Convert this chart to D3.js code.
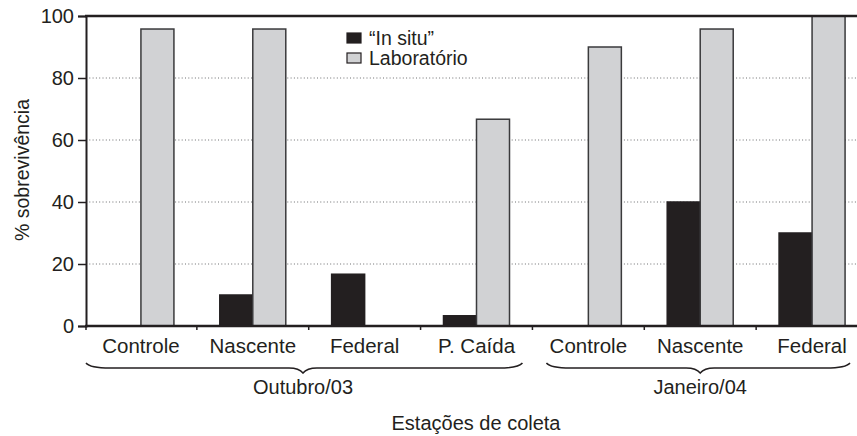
<!DOCTYPE html>
<html>
<head>
<meta charset="utf-8">
<script src="https://d3js.org/d3.v7.min.js"></script>
<style>
  body { margin: 0; background: #fff; }
  text { font-family: "Liberation Sans", Arial, sans-serif; fill: #231f20; }
</style>
</head>
<body>
<svg id="chart" width="857" height="436"></svg>
<script>
// data
var stations = ["Controle", "Nascente", "Federal", "P. Caída", "Controle", "Nascente", "Federal"];
var inSitu = [0, 10, 16.7, 3.3, 0, 40, 30];
var laboratorio = [95.8, 95.8, 0, 66.7, 90, 95.8, 100];
var seriesNames = ["\u201cIn situ\u201d", "Laboratório"];
var yTicks = [0, 20, 40, 60, 80, 100];
var periods = ["Outubro/03", "Janeiro/04"];
var periodSpans = [[0, 3], [4, 6]];

var svg = d3.select("#chart");
var plotLeft = 86, plotTop = 16, plotBottom = 326, plotRight = 857;

var x = d3.scaleBand().domain(d3.range(stations.length)).range([85, 868]).padding(0);
var bw = x.bandwidth();
var x1 = d3.scaleBand().domain([0, 1]).range([bw / 2 - 33, bw / 2 + 33]);
var y = d3.scaleLinear().domain([0, 100]).range([plotBottom, plotTop]);

// dotted grid
svg.append("g")
  .selectAll("line")
  .data(yTicks.filter(function(d) { return d > 0 && d < 100; }))
  .enter().append("line")
    .attr("x1", plotLeft).attr("x2", plotRight)
    .attr("y1", function(d) { return y(d); })
    .attr("y2", function(d) { return y(d); })
    .attr("stroke", "#6d6e70")
    .attr("stroke-width", 1)
    .attr("stroke-dasharray", "1,2.3");

// bars
var colors = ["#231f20", "#d1d2d4"];
var rows = stations.map(function(s, i) { return [inSitu[i], laboratorio[i]]; });
var groups = svg.append("g").selectAll("g")
  .data(rows)
  .enter().append("g")
    .attr("transform", function(d, i) { return "translate(" + x(i) + ",0)"; });
groups.selectAll("rect")
  .data(function(d) { return d.map(function(v, k) { return {v: v, k: k}; }).filter(function(e) { return e.v > 0; }); })
  .enter().append("rect")
    .attr("x", function(d) { return x1(d.k); })
    .attr("width", x1.bandwidth())
    .attr("y", function(d) { return y(d.v); })
    .attr("height", function(d) { return plotBottom - y(d.v); })
    .attr("fill", function(d) { return colors[d.k]; })
    .attr("stroke", function(d) { return d.k == 0 ? "#231f20" : "#3a3a3c"; })
    .attr("stroke-width", 1.5);

// y axis
var yAxis = svg.append("g")
  .attr("transform", "translate(" + plotLeft + ",0)")
  .call(d3.axisLeft(y).tickValues(yTicks).tickSize(8).tickPadding(4));
yAxis.select(".domain").attr("stroke", "#231f20").attr("stroke-width", 2);
yAxis.selectAll(".tick line").attr("stroke", "#231f20").attr("stroke-width", 1.5);
yAxis.selectAll("text").style("font-size", "20px").attr("fill", "#231f20");

// top border
svg.append("line")
  .attr("x1", plotLeft - 1).attr("x2", plotRight)
  .attr("y1", plotTop).attr("y2", plotTop)
  .attr("stroke", "#231f20").attr("stroke-width", 2.5);

// x axis
svg.append("line")
  .attr("x1", plotLeft - 1).attr("x2", plotRight)
  .attr("y1", plotBottom).attr("y2", plotBottom)
  .attr("stroke", "#231f20").attr("stroke-width", 2.5);
svg.append("g").selectAll("line")
  .data(d3.range(stations.length))
  .enter().append("line")
    .attr("x1", function(d) { return d == 0 ? plotLeft : x(d); })
    .attr("x2", function(d) { return d == 0 ? plotLeft : x(d); })
    .attr("y1", plotBottom).attr("y2", plotBottom + 4)
    .attr("stroke", "#231f20").attr("stroke-width", 1.5);

svg.append("g").selectAll("text")
  .data(stations)
  .enter().append("text")
    .attr("x", function(d, i) { return x(i) + bw / 2; })
    .attr("y", 353)
    .attr("text-anchor", "middle")
    .style("font-size", "20.5px")
    .text(function(d) { return d; });

// braces under each period
function brace(x0, x2, tip) {
  var yt = 363, yl = 368, yp = 373;
  return "M" + x0 + "," + yt +
    " Q" + (x0 + 4) + "," + yl + " " + (x0 + 24) + "," + yl +
    " L" + (tip - 14) + "," + yl +
    " Q" + (tip - 4) + "," + yl + " " + tip + "," + yp +
    " Q" + (tip + 4) + "," + yl + " " + (tip + 14) + "," + yl +
    " L" + (x2 - 24) + "," + yl +
    " Q" + (x2 - 4) + "," + yl + " " + x2 + "," + yt;
}
periodSpans.forEach(function(p, i) {
  var x0 = i == 0 ? plotLeft : x(p[0]) + 14;
  var x2 = x(p[1]) + bw - (i == 0 ? 10 : 18);
  var tip = i == 0 ? 303 : x(p[0] + 1) + bw / 2;
  svg.append("path")
    .attr("d", brace(x0, x2, tip))
    .attr("fill", "none")
    .attr("stroke", "#231f20")
    .attr("stroke-width", 1.5);
  svg.append("text")
    .attr("x", tip)
    .attr("y", 394)
    .attr("text-anchor", "middle")
    .style("font-size", "20px")
    .text(periods[i]);
});

// axis titles
svg.append("text")
  .attr("x", 476).attr("y", 430)
  .attr("text-anchor", "middle")
  .style("font-size", "20px")
  .text("Estações de coleta");

svg.append("text")
  .attr("transform", "rotate(-90)")
  .attr("x", -170).attr("y", 29)
  .attr("text-anchor", "middle")
  .style("font-size", "19.5px")
  .text("% sobrevivência");

// legend
var legend = svg.append("g").attr("transform", "translate(347,33)");
seriesNames.forEach(function(name, i) {
  legend.append("rect")
    .attr("x", 0).attr("y", i * 20)
    .attr("width", 14).attr("height", 10)
    .attr("fill", colors[i])
    .attr("stroke", "#231f20").attr("stroke-width", 1.2);
  legend.append("text")
    .attr("x", 22).attr("y", i * 20 + 12)
    .style("font-size", "19.5px")
    .text(name);
});
</script>
</body>
</html>
